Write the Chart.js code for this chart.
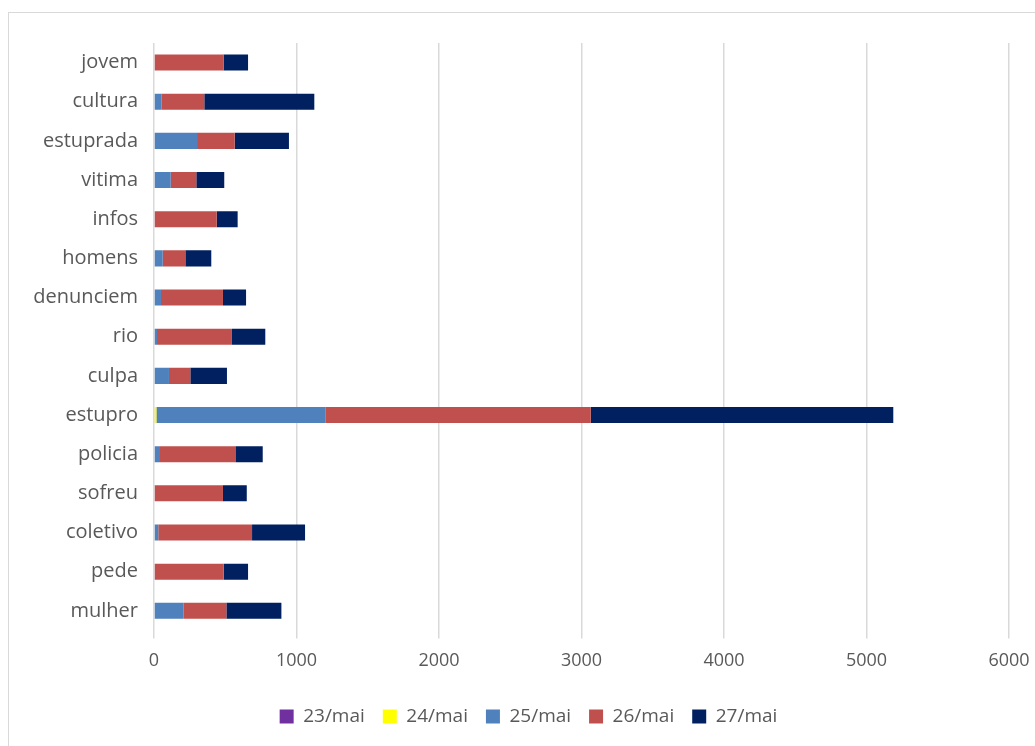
<!DOCTYPE html>
<html>
<head>
<meta charset="utf-8">
<script src="https://cdn.jsdelivr.net/npm/chart.js@4.4.1/dist/chart.umd.min.js"></script>
<style>
  html, body { margin: 0; padding: 0; background: #fff; width: 1035px; height: 746px; overflow: hidden; }
  #frame { position: absolute; left: 8px; top: 12px; width: 1100px; height: 800px; border: 1px solid #d9d9d9; box-sizing: border-box; }
  #wrap { position: absolute; left: 0; top: 0; width: 1035px; height: 746px; }
</style>
</head>
<body>
<div id="frame"></div>
<div id="wrap"><canvas id="c" width="1035" height="746"></canvas></div>
<script>
const categories = ["jovem","cultura","estuprada","vitima","infos","homens","denunciem","rio","culpa","estupro","policia","sofreu","coletivo","pede","mulher"];
const seriesNames = ["23/mai","24/mai","25/mai","26/mai","27/mai"];
const mai23 = [0,0,0,0,0,0,0,0,0,5,0,0,0,0,0];
const mai24 = [0,0,0,0,0,0,0,0,0,12,0,0,0,0,0];
const mai25 = [0,54,302,117,0,61,49,21,105,1185,42,0,30,0,206];
const mai26 = [488,299,264,180,440,159,435,526,150,1863,529,484,658,489,302];
const mai27 = [172,772,381,196,147,182,162,234,257,2123,192,167,372,171,386];
const xTicks = [0,1000,2000,3000,4000,5000,6000];
const colors = ["#7030A0","#FFFF00","#4F81BD","#C0504D","#002060"];
const values = [mai23, mai24, mai25, mai26, mai27];

const FONT = "'Open Sans', 'DejaVu Sans', sans-serif";
Chart.defaults.font.family = FONT;
Chart.defaults.color = "#595959";

new Chart(document.getElementById("c"), {
  type: "bar",
  data: {
    labels: categories,
    datasets: seriesNames.map((n, i) => ({
      label: n,
      data: values[i],
      backgroundColor: colors[i],
      borderWidth: 0,
      barPercentage: 0.41,
      categoryPercentage: 1.0
    }))
  },
  options: {
    indexAxis: "y",
    responsive: false,
    animation: false,
    layout: { padding: { left: 22, right: 0, top: 43, bottom: 10 } },
    plugins: {
      legend: {
        position: "bottom",
        labels: { boxWidth: 14, boxHeight: 14, padding: 18, font: { size: 19 }, color: "#595959" }
      },
      tooltip: { enabled: false }
    },
    scales: {
      x: {
        stacked: true,
        min: 0, max: 6000,
        afterBuildTicks: (s) => { s.ticks = xTicks.map(v => ({ value: v })); },
        afterFit: (s) => { s.height += 5; s.paddingRight = 26; },
        grid: { color: "#d9d9d9", lineWidth: 1.5, tickLength: 8, drawTicks: true },
        border: { display: false },
        ticks: { font: { size: 18 }, color: "#595959", padding: 12, callback: (v) => String(v) }
      },
      y: {
        stacked: true,
        afterFit: (s) => { s.width = 132; },
        grid: { display: false, drawTicks: false },
        border: { display: false },
        ticks: { font: { size: 20 }, color: "#595959", padding: 16 }
      }
    }
  }
});
</script>
</body>
</html>
